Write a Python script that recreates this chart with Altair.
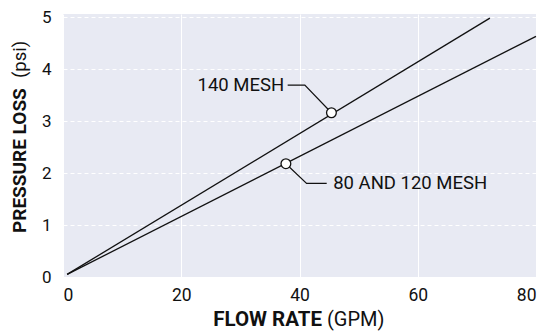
import altair as alt
import pandas as pd

FONT = "Roboto"

# line series (flow GPM, pressure loss psi)
series = ["140 MESH", "140 MESH", "80 AND 120 MESH", "80 AND 120 MESH"]
flow = [0.7, 72.2, 0.7, 80.0]
loss = [0.05, 4.98, 0.05, 4.63]

# marked points on each curve
pt_flow = [45.4, 37.7]
pt_loss = [3.16, 2.18]

# leader lines (circle -> elbow -> label)
lead_id = ["a", "a", "a", "b", "b", "b"]
lead_order = [0, 1, 2, 0, 1, 2]
lead_flow = [45.4, 40.9, 38.0, 37.7, 41.2, 44.6]
lead_loss = [3.16, 3.69, 3.69, 2.18, 1.80, 1.80]

# labels
lab_text = ["140 MESH", "80 AND 120 MESH"]
lab_flow = [37.4, 45.7]
lab_loss = [3.69, 1.80]
lab_align = ["right", "left"]

x_ticks = [0, 20, 40, 60, 80]
y_ticks = [0, 1, 2, 3, 4, 5]

W, H = 473, 263

lines_df = pd.DataFrame({"series": series, "flow": flow, "loss": loss})
pts_df = pd.DataFrame({"flow": pt_flow, "loss": pt_loss})
lead_df = pd.DataFrame({"id": lead_id, "o": lead_order, "flow": lead_flow, "loss": lead_loss})
lab_df = pd.DataFrame({"text": lab_text, "flow": lab_flow, "loss": lab_loss, "align": lab_align})

xs = alt.Scale(domain=[0, 80], nice=False, zero=False)
ys = alt.Scale(domain=[0, 5.06], nice=False, zero=False)

xax = alt.Axis(values=x_ticks, title=None, grid=True, gridColor="white", gridWidth=1,
               domain=False, ticks=False, labelPadding=9, labelFontSize=17.5,
               labelFont=FONT, labelColor="#111", format="d")
yax = alt.Axis(values=y_ticks, title=None, grid=True, gridColor="white", gridWidth=1,
               gridDash=[4, 3], domain=False, ticks=False, labelPadding=12,
               labelFontSize=17, labelFont=FONT, labelColor="#111", format="d")

base_lines = alt.Chart(lines_df).mark_line(color="#111", strokeWidth=1.3).encode(
    x=alt.X("flow:Q", scale=xs, axis=xax),
    y=alt.Y("loss:Q", scale=ys, axis=yax),
    detail="series:N",
)

leaders = alt.Chart(lead_df).mark_line(color="#111", strokeWidth=1.2).encode(
    x=alt.X("flow:Q", scale=xs),
    y=alt.Y("loss:Q", scale=ys),
    detail="id:N",
    order="o:Q",
)

points = alt.Chart(pts_df).mark_point(filled=True, fill="white", stroke="#111",
                                      strokeWidth=1.3, size=95, opacity=1).encode(
    x=alt.X("flow:Q", scale=xs),
    y=alt.Y("loss:Q", scale=ys),
)

lab_left = alt.Chart(lab_df[lab_df["align"] == "right"]).mark_text(
    align="right", baseline="middle", font=FONT, fontSize=18.5, color="#111").encode(
    x=alt.X("flow:Q", scale=xs), y=alt.Y("loss:Q", scale=ys), text="text:N")
lab_right = alt.Chart(lab_df[lab_df["align"] == "left"]).mark_text(
    align="left", baseline="middle", font=FONT, fontSize=18.5, color="#111").encode(
    x=alt.X("flow:Q", scale=xs), y=alt.Y("loss:Q", scale=ys), text="text:N")

# axis titles (mixed weights)
xt1 = alt.Chart(pd.DataFrame({"t": ["FLOW RATE"]})).mark_text(
    align="right", baseline="alphabetic", font=FONT, fontSize=20.5, fontWeight="bold",
    color="#111").encode(x=alt.value(259), y=alt.value(312), text="t:N")
xt2 = alt.Chart(pd.DataFrame({"t": ["(GPM)"]})).mark_text(
    align="left", baseline="alphabetic", font=FONT, fontSize=20, color="#111").encode(
    x=alt.value(264), y=alt.value(312), text="t:N")
yt1 = alt.Chart(pd.DataFrame({"t": ["PRESSURE LOSS"]})).mark_text(
    align="left", baseline="alphabetic", angle=270, font=FONT, fontSize=19,
    fontWeight="bold", color="#111").encode(x=alt.value(-37), y=alt.value(219), text="t:N")
yt2 = alt.Chart(pd.DataFrame({"t": ["(psi)"]})).mark_text(
    align="left", baseline="alphabetic", angle=270, font=FONT, fontSize=18.5,
    color="#111").encode(x=alt.value(-37), y=alt.value(64), text="t:N")

chart = alt.layer(base_lines, leaders, points, lab_left, lab_right, xt1, xt2, yt1, yt2).properties(
    width=W, height=H,
    autosize=alt.AutoSizeParams(type="none"),
    padding={"left": 55, "top": 6, "right": 3, "bottom": 58},
    background="white",
).configure_view(fill="#e8eaf3", stroke=None)

chart.save("out.html", embed_options={"renderer": "svg", "actions": False})
